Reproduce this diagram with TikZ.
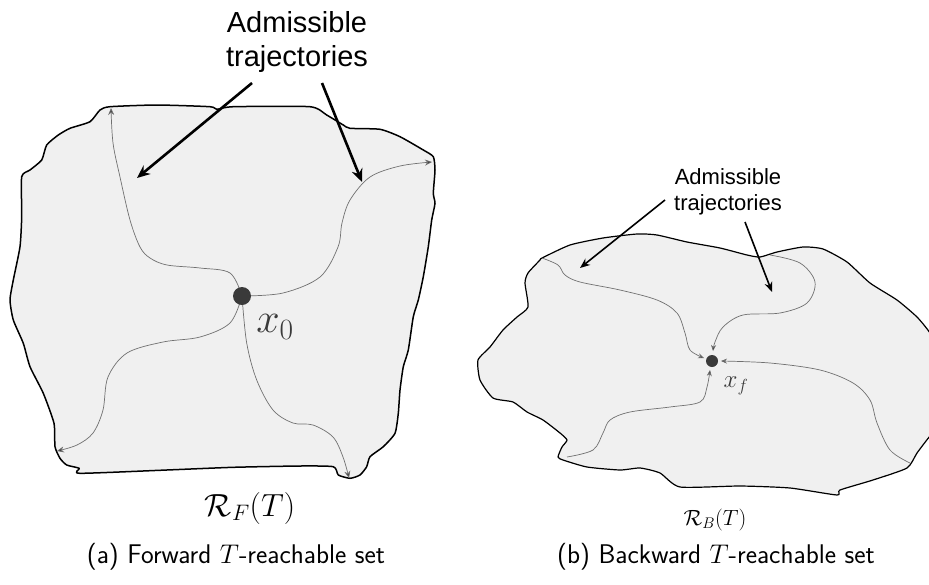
\RequirePackage{fix-cm}
\documentclass[tikz,border=0pt]{standalone}
\usepackage{fontspec}
\newfontfamily\labelfont{Liberation Sans}
\usetikzlibrary{arrows.meta}
\definecolor{regionfill}{HTML}{F0F0F0}
\definecolor{trajgray}{HTML}{707070}
\definecolor{dotgray}{HTML}{3A3A3A}
\tikzset{
  region/.style={draw=black, fill=regionfill, line width=1.5pt, line join=round},
  traj/.style={draw=trajgray, line width=0.7pt},
  fwdtip/.style={-{Stealth[length=7pt,width=6pt,fill=dotgray]}},
  bwdtip/.style={-{Stealth[length=6pt,width=5pt,fill=black]}},
  pointer/.style={draw=black, -{Stealth[length=13pt,width=11pt]}},
  statedot/.style={circle, fill=dotgray, inner sep=0pt},
  subcap/.style={font=\sffamily\fontsize{27}{32}\selectfont, anchor=base},
}
\begin{document}
\begin{tikzpicture}[x=1pt,y=-1pt]
\useasboundingbox (0,0) rectangle (929,584);

% ---------- forward reachable set ----------
\path[region] plot[smooth cycle, tension=0.35] coordinates {
 (100,110) (110,106.7) (156.7,105) (210,106.7) (216.7,109.3) (233.3,106.7)
 (310,106.7) (326.7,115) (343.3,125) (350,128.3) (380,129.3) (400,136.7)
 (423.3,150) (433.3,156.7) (435,170) (433.3,193.3) (435,203.3) (431.7,220)
 (428.3,246.7) (423.3,276.7) (418.3,300) (413.3,316.7) (408.3,350)
 (403.3,366.7) (400,390) (398.3,413.3) (395,433.3) (383.3,446.7) (370,456.7)
 (366.7,466.7) (360,475) (350,478.3) (338.3,475) (333.3,466.7) (300,466)
 (233.3,467.3) (166.7,470) (80,473.3) (79.3,468.3) (66.7,465) (60,458.3)
 (55,446.7) (54,423.3) (43.3,393.3) (30,366.7) (23.3,343.3) (13.3,320)
 (10,300) (13.3,280) (20,246.7) (21.7,216.7) (21.7,176.7) (30,170)
 (41.7,160) (46.7,145) (58.3,135) (70,128.3) (90,121.7)};

\coordinate (x0c) at (242,296);
\draw[traj,fwdtip] plot[smooth, tension=0.55] coordinates {
 (x0c) (230,273) (200,268) (167,265) (150,258) (140,247) (130,220)
 (120,177) (113,143) (111,108)};
\draw[traj,fwdtip] plot[smooth, tension=0.55] coordinates {
 (x0c) (283,293) (320,277) (338,247) (342,223) (350,200) (370,177)
 (400,166) (432,162)};
\draw[traj,fwdtip] plot[smooth, tension=0.55] coordinates {
 (x0c) (230,323) (200,337) (163,342) (127,353) (108,377) (103,410)
 (93,433) (77,445) (57,451)};
\draw[traj,fwdtip] plot[smooth, tension=0.55] coordinates {
 (x0c) (246.7,343) (256.7,380) (273,410) (293,423) (313,425) (333,437)
 (343,457) (349,478)};
\node[statedot, minimum size=18pt] (x0) at (x0c) {};
\node[font=\fontsize{42}{48}\selectfont, text=dotgray] (x0lab) at (275,327) {$x_0$};

\node[font=\labelfont\fontsize{29}{34}\selectfont, align=center] (admA) at (297,42)
  {Admissible\\trajectories};
\coordinate (tipA1) at (137,178);
\coordinate (tipA2) at (362,182);
\draw[pointer, line width=2.6pt] (252,83) -- (tipA1);
\draw[pointer, line width=2.6pt] (322,83) -- (tipA2);

\node[font=\fontsize{32}{38}\selectfont] (RF) at (250,508) {$\mathcal{R}_F(T)$};

% ---------- backward reachable set ----------
\path[region, line width=1.2pt] plot[smooth cycle, tension=0.35] coordinates {
 (542,258) (570,245) (603,238) (637,234) (657,235) (687,242) (720,248)
 (747,255) (760,257) (777,252) (803,247) (823,249) (847,262) (870,283)
 (897,300) (917,317) (930,333) (945,360) (945,420) (930,436) (917,453)
 (907,468) (873,480) (840,490) (837,495) (790,488) (740,486) (680,487)
 (660,473) (640,468) (620,470) (587,467) (563,460) (558,457) (562,447)
 (567,440) (560,433) (543,420) (527,412) (513,402) (493,398) (480,380)
 (478,360) (490,347) (503,330) (517,317) (528,307) (525,283) (528,273)
 (540,260)};

\node[statedot, minimum size=12pt] (xf) at (712,361) {};
\draw[traj,bwdtip] plot[smooth, tension=0.55] coordinates {
 (542,258) (558,265) (565,275) (580,282) (620,290) (657,300) (677,313)
 (685,333) (690,350) (704,358)};
\draw[traj,bwdtip] plot[smooth, tension=0.55] coordinates {
 (770,255) (800,263) (815,282) (807,303) (780,313) (743,315) (723,327)
 (715,342) (713,351)};
\draw[traj,bwdtip] plot[smooth, tension=0.55] coordinates {
 (567,457) (593,450) (603,433) (610,420) (630,412) (670,407) (700,402)
 (707,387) (710,370)};
\draw[traj,bwdtip] plot[smooth, tension=0.55] coordinates {
 (910,463) (890,450) (877,423) (870,400) (853,383) (820,370) (770,363)
 (721,361)};
\node[font=\fontsize{25}{30}\selectfont, text=dotgray] (xflab) at (736,386) {$x_f$};

\node[font=\labelfont\fontsize{22}{26}\selectfont, align=center] (admB) at (728,192)
  {Admissible\\trajectories};
\coordinate (tipB1) at (580,268);
\coordinate (tipB2) at (772,292);
\draw[pointer, line width=1.6pt, -{Stealth[length=10pt,width=8pt]}] (665,200) -- (tipB1);
\draw[pointer, line width=1.6pt, -{Stealth[length=10pt,width=8pt]}] (745,222) -- (tipB2);

\node[font=\fontsize{22}{26}\selectfont] (RB) at (715,520) {$\mathcal{R}_B(T)$};

% ---------- captions ----------
\node[subcap] (capA) at (236,563) {(a) Forward $T$-reachable set};
\node[subcap] (capB) at (716,563) {(b) Backward $T$-reachable set};
\end{tikzpicture}
\end{document}
